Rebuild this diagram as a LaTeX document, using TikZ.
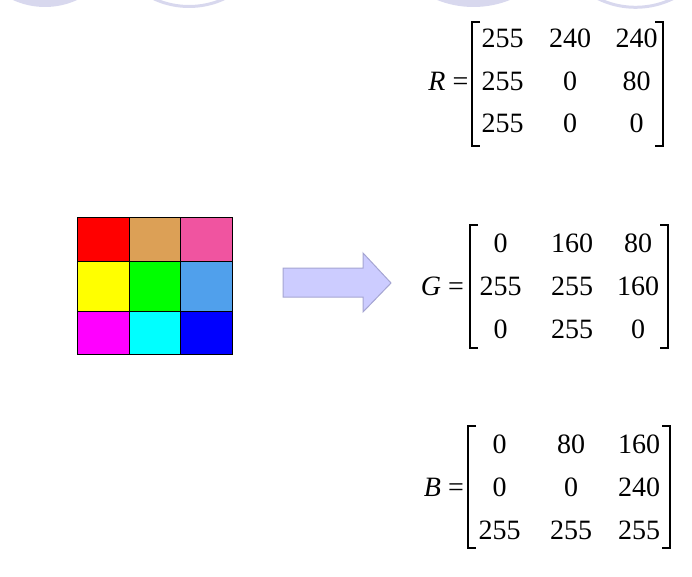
\documentclass[tikz,border=0pt]{standalone}
\usepackage{fontspec}
\setmainfont{Liberation Serif}
\definecolor{circfill}{RGB}{216,216,238}
\definecolor{arrfill}{RGB}{204,204,255}
\definecolor{arrline}{RGB}{165,165,210}
\definecolor{cA}{RGB}{255,0,0}
\definecolor{cB}{RGB}{220,160,86}
\definecolor{cC}{RGB}{240,84,160}
\definecolor{cD}{RGB}{255,255,0}
\definecolor{cE}{RGB}{0,255,0}
\definecolor{cF}{RGB}{80,160,236}
\definecolor{cG}{RGB}{255,0,255}
\definecolor{cH}{RGB}{0,255,255}
\definecolor{cI}{RGB}{0,0,255}
\begin{document}
\begin{tikzpicture}[x=1pt,y=-1pt,
  cellbox/.style={draw=black,line width=1.1pt,inner sep=0pt,anchor=north west,minimum width=51.67pt},
  entry/.style={inner sep=0pt,anchor=base,font=\fontsize{28}{28}\selectfont},
  lbl/.style={inner sep=0pt,anchor=base east,font=\fontsize{28}{28}\selectfont},
  bracket/.style={draw=black,line width=1.1pt},
  deco/.style={fill=circfill,draw=none},
  ring/.style={draw=circfill,line width=3pt}]
\useasboundingbox (0,0) rectangle (692,577);
\begin{scope}
\clip (0,0) rectangle (692,577);
\fill[deco] (45,-70) circle[radius=77];
\draw[ring] (189,-77) circle[radius=83.5];
\fill[deco] (473.5,-91) circle[radius=98];
\draw[ring] (635.5,-78) circle[radius=85.3];
\end{scope}
% colour grid
\node[cellbox,fill=cA,minimum height=44pt] (g11) at (77,217) {};
\node[cellbox,fill=cB,minimum height=44pt] (g12) at (128.67,217) {};
\node[cellbox,fill=cC,minimum height=44pt] (g13) at (180.33,217) {};
\node[cellbox,fill=cD,minimum height=50pt] (g21) at (77,261) {};
\node[cellbox,fill=cE,minimum height=50pt] (g22) at (128.67,261) {};
\node[cellbox,fill=cF,minimum height=50pt] (g23) at (180.33,261) {};
\node[cellbox,fill=cG,minimum height=43pt] (g31) at (77,311) {};
\node[cellbox,fill=cH,minimum height=43pt] (g32) at (128.67,311) {};
\node[cellbox,fill=cI,minimum height=43pt] (g33) at (180.33,311) {};
% arrow
\draw[fill=arrfill,draw=arrline,line width=1pt,line join=miter]
  (283,268) -- (363,268) -- (363,253) -- (391,283) -- (363,312) -- (363,297) -- (283,297) -- cycle;
% R matrix
\node[lbl] (rl) at (468.5,90.5) {\textit{R}\hspace{7pt}=};
\draw[bracket] (480,22) -- (472,22) -- (472,146) -- (480,146);
\draw[bracket] (655,22) -- (663,22) -- (663,146) -- (655,146);
\node[entry] (r11) at (502.5,48) {255};
\node[entry] (r12) at (570,48) {240};
\node[entry] (r13) at (636.5,48) {240};
\node[entry] (r21) at (502.5,90.5) {255};
\node[entry] (r22) at (570,90.5) {0};
\node[entry] (r23) at (636.5,90.5) {80};
\node[entry] (r31) at (502.5,133) {255};
\node[entry] (r32) at (570,133) {0};
\node[entry] (r33) at (636.5,133) {0};
% G matrix
\node[lbl] (gl) at (464,295) {\textit{G}\hspace{7pt}=};
\draw[bracket] (478,225) -- (470,225) -- (470,348) -- (478,348);
\draw[bracket] (660,225) -- (668,225) -- (668,348) -- (660,348);
\node[entry] (m11) at (500.5,252) {0};
\node[entry] (m12) at (572,252) {160};
\node[entry] (m13) at (638,252) {80};
\node[entry] (m21) at (500.5,295) {255};
\node[entry] (m22) at (572,295) {255};
\node[entry] (m23) at (638,295) {160};
\node[entry] (m31) at (500.5,338) {0};
\node[entry] (m32) at (572,338) {255};
\node[entry] (m33) at (638,338) {0};
% B matrix
\node[lbl] (bl) at (464,496) {\textit{B}\hspace{7pt}=};
\draw[bracket] (476,426) -- (468,426) -- (468,548) -- (476,548);
\draw[bracket] (662,426) -- (670,426) -- (670,548) -- (662,548);
\node[entry] (b11) at (499.5,453) {0};
\node[entry] (b12) at (571,453) {80};
\node[entry] (b13) at (639,453) {160};
\node[entry] (b21) at (499.5,496) {0};
\node[entry] (b22) at (571,496) {0};
\node[entry] (b23) at (639,496) {240};
\node[entry] (b31) at (499.5,539) {255};
\node[entry] (b32) at (571,539) {255};
\node[entry] (b33) at (639,539) {255};
\end{tikzpicture}
\end{document}
